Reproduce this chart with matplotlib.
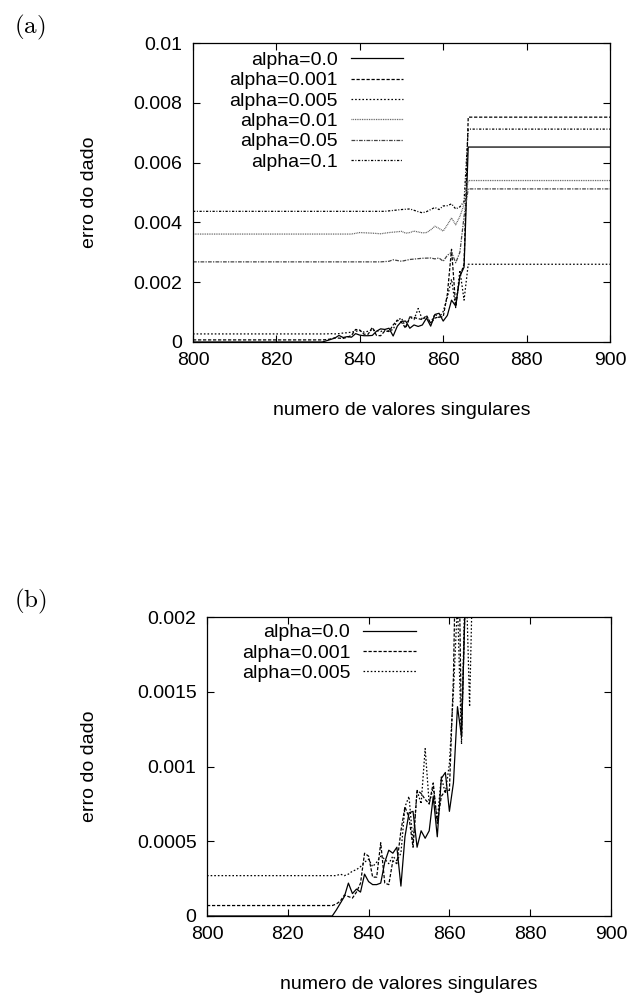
import numpy as np
import matplotlib
matplotlib.use("Agg")
import matplotlib.pyplot as plt

plt.rcParams['font.family'] = ['Liberation Sans', 'DejaVu Sans']
plt.rcParams['mathtext.fontset'] = 'cm'

# values (x = numero de valores singulares)
x_a0 = [800, 831, 832, 833, 834, 835, 836, 837, 838, 839, 840, 841, 842, 843, 844,
        845, 846, 847, 848, 849, 850, 851, 852, 853, 854, 855, 856, 857, 858, 859,
        860, 861, 862, 863, 864, 865, 866, 900]
y_a0 = [0.0, 0.0, 0.00004, 0.000085, 0.00013, 0.00022, 0.00015, 0.00018, 0.00016,
        0.00028, 0.00023, 0.00021, 0.00021, 0.00022, 0.00036, 0.00044, 0.00042,
        0.00046, 0.00020, 0.00053, 0.00069, 0.00070, 0.00046, 0.00057, 0.00052,
        0.00057, 0.00080, 0.00053, 0.00092, 0.00096, 0.00070, 0.00089, 0.00140,
        0.00120, 0.00220, 0.00250, 0.00652, 0.00652]

x_a001 = [800, 831, 832, 833, 834, 835, 836, 837, 838, 839, 840, 841, 842, 843, 844,
          845, 846, 847, 848, 849, 850, 851, 852, 853, 854, 855, 856, 857, 858, 859,
          860, 861, 862, 863, 864, 865, 866, 900]
y_a001 = [0.00007, 0.00007, 0.00008, 0.00010, 0.00014, 0.00013, 0.00012, 0.00016,
          0.00022, 0.00042, 0.00040, 0.00026, 0.00026, 0.00049, 0.00022, 0.00021,
          0.00037, 0.00035, 0.00057, 0.00073, 0.00066, 0.00046, 0.00084, 0.00082,
          0.00078, 0.00075, 0.00089, 0.00062, 0.00080, 0.00084, 0.00084, 0.00160,
          0.00310, 0.00120, 0.00220, 0.00260, 0.00752, 0.00752]

x_a005 = [800, 832, 833, 834, 835, 836, 837, 838, 839, 840, 841, 842, 843, 844, 845,
          846, 847, 848, 849, 850, 851, 852, 853, 854, 855, 856, 857, 858, 859, 860,
          861, 862, 863, 864, 865, 866, 900]
y_a005 = [0.00027, 0.00027, 0.00028, 0.00027, 0.00028, 0.00030, 0.00031, 0.00033,
          0.00036, 0.00038, 0.00033, 0.00036, 0.00040, 0.00038, 0.00035, 0.00040,
          0.00037, 0.00042, 0.00073, 0.00080, 0.00049, 0.00084, 0.00075, 0.00112,
          0.00075, 0.00086, 0.00064, 0.00093, 0.00082, 0.00102, 0.00150, 0.00210,
          0.00115, 0.00240, 0.00140, 0.00260, 0.00260]

x_a01 = [800, 838, 840, 843, 845, 847, 850, 851, 852, 853, 855, 856, 857, 858, 859,
         860, 861, 862, 863, 864, 865, 866, 900]
y_a01 = [0.00361, 0.00361, 0.00366, 0.00364, 0.00362, 0.00366, 0.00370, 0.00364,
         0.00366, 0.00371, 0.00365, 0.00366, 0.00375, 0.00387, 0.00380, 0.00371,
         0.00392, 0.00415, 0.00392, 0.00420, 0.00460, 0.00540, 0.00540]

x_a05 = [800, 845, 847, 848, 850, 852, 855, 857, 858, 859, 860, 861, 862, 863, 864,
         865, 866, 900]
y_a05 = [0.00268, 0.00268, 0.00270, 0.00275, 0.00270, 0.00276, 0.00280, 0.00281,
         0.00278, 0.00281, 0.00270, 0.00290, 0.00300, 0.00265, 0.00300, 0.00420,
         0.00512, 0.00512]

x_a1 = [800, 846, 848, 850, 852, 854, 855, 856, 858, 859, 860, 861, 862, 863, 864,
        865, 866, 900]
y_a1 = [0.00437, 0.00437, 0.00440, 0.00443, 0.00445, 0.00436, 0.00432, 0.00436,
        0.00450, 0.00443, 0.00455, 0.00456, 0.00462, 0.00445, 0.00452, 0.00470,
        0.00712, 0.00712]

series = [
    ('alpha=0.0', x_a0, y_a0, '-', 'black'),
    ('alpha=0.001', x_a001, y_a001, (0, (2.6, 1.4)), 'black'),
    ('alpha=0.005', x_a005, y_a005, (0, (1.3, 1.6)), 'black'),
    ('alpha=0.01', x_a01, y_a01, (0, (0.7, 0.7)), '#555555'),
    ('alpha=0.05', x_a05, y_a05, (0, (3.0, 1.0, 1.0, 1.0)), '#444444'),
    ('alpha=0.1', x_a1, y_a1, (0, (1.8, 1.3, 0.8, 1.3)), 'black'),
]

xticks = [800, 820, 840, 860, 880, 900]
yticks_a = [0, 0.002, 0.004, 0.006, 0.008, 0.01]
ytick_labels_a = ['0', '0.002', '0.004', '0.006', '0.008', '0.01']
yticks_b = [0, 0.0005, 0.001, 0.0015, 0.002]
ytick_labels_b = ['0', '0.0005', '0.001', '0.0015', '0.002']

FS = 14
W, H = 633, 1001
fig = plt.figure(figsize=(W / 100, H / 100), dpi=100)
ax1 = fig.add_axes([193 / W, 1 - 342 / H, 417 / W, 299 / H])
ax2 = fig.add_axes([207 / W, 1 - 916 / H, 404 / W, 299 / H])


def style_axes(ax, yticks, ylabels, ylim, lab_x):
    ax.set_xlim(800, 900)
    ax.set_ylim(*ylim)
    ax.set_xticks(xticks)
    ax.set_xticklabels([str(v) for v in xticks])
    ax.set_yticks(yticks)
    ax.set_yticklabels(ylabels)
    ax.tick_params(direction='in', length=5, width=0.8, top=True, right=True,
                   labelsize=FS, pad=7.5, colors='black')
    for s in ax.spines.values():
        s.set_linewidth(0.9)
    ax.set_xlabel('numero de valores singulares', fontsize=FS, va='top')
    ax.set_ylabel('erro do dado', fontsize=FS)
    ax.xaxis.set_label_coords(0.5, -0.2)
    ax.yaxis.set_label_coords(lab_x, 0.5)


def add_legend(ax, right_x, top_y):
    # markerfirst=False: text right-justified, sample line after it (gnuplot style)
    ax.legend(loc='upper right', bbox_to_anchor=(right_x, top_y), frameon=False,
              markerfirst=False, fontsize=FS, handlelength=2.7,
              handletextpad=0.67, labelspacing=0.14, borderaxespad=0,
              borderpad=0)


for lab, xs, ys, ls, col in series:
    ax1.plot(xs, ys, linestyle=ls, color=col, lw=0.9, label=lab)
style_axes(ax1, yticks_a, ytick_labels_a, (0, 0.01), -0.228)
add_legend(ax1, 0.504, 0.972)

for lab, xs, ys, ls, col in series[:3]:
    ax2.plot(xs, ys, linestyle=ls, color=col, lw=0.9, label=lab)
style_axes(ax2, yticks_b, ytick_labels_b, (0, 0.002), -0.27)
add_legend(ax2, 0.517, 0.977)

fig.text(30 / W, 1 - 27 / H, r'$\mathrm{(a)}$', fontsize=18, ha='center', va='center')
fig.text(30 / W, 1 - 601 / H, r'$\mathrm{(b)}$', fontsize=18, ha='center', va='center')

fig.savefig('out.png', dpi=100)
